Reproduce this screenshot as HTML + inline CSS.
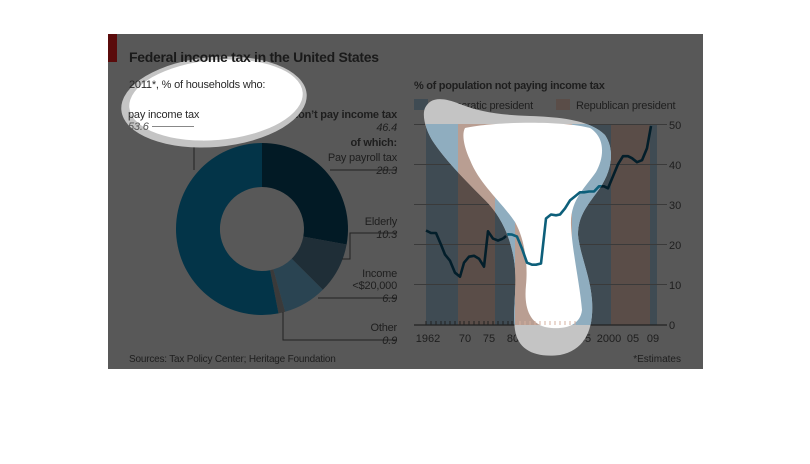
<!DOCTYPE html>
<html><head><meta charset="utf-8"><style>
html,body{margin:0;padding:0;background:#fff;}
svg{display:block;font-family:"Liberation Sans","DejaVu Sans",sans-serif;}
</style></head><body>
<svg width="810" height="464" viewBox="0 0 810 464" xmlns="http://www.w3.org/2000/svg">
<defs>
<clipPath id="b2"><path d="M425,108 C430,98 440,96 460,104 C480,112 500,115 530,116 C560,117 590,120 605,135 C615,150 612,170 600,188 C588,205 578,215 578,235 C580,255 590,275 592,300 C594,330 585,350 560,355 C535,358 518,350 515,330 C512,310 518,285 514,260 C510,235 500,215 485,200 C465,180 445,160 432,140 C425,128 422,115 425,108 Z"/></clipPath>
</defs>
<rect x="108" y="34" width="595" height="335" fill="#585858"/>
<rect x="108" y="34" width="9" height="28" fill="#5a0b0b"/>

<!-- donut -->
<g transform="translate(262,229)">
<path d="M0,-86 A86,86 0 0 1 84.6,15.5 L41.3,7.6 A42,42 0 0 0 0,-42 Z" fill="#021a25"/>
<path d="M84.6,15.5 A86,86 0 0 1 60.8,60.8 L29.7,29.7 A42,42 0 0 0 41.3,7.6 Z" fill="#1f2e37"/>
<path d="M60.8,60.8 A86,86 0 0 1 23.1,82.8 L11.3,40.4 A42,42 0 0 0 29.7,29.7 Z" fill="#2a4452"/>
<path d="M23.1,82.8 A86,86 0 0 1 16.5,84.4 L8.1,41.2 A42,42 0 0 0 11.3,40.4 Z" fill="#3a3a3a"/>
<path d="M16.5,84.4 A86,86 0 1 1 0,-86 L0,-42 A42,42 0 1 0 8.1,41.2 Z" fill="#033448"/>
</g>
<g stroke="#222" stroke-width="1" fill="none">
<polyline points="160,126 194,126 194,170"/>
<polyline points="330,170 397,170"/>
<polyline points="342,259 350,259 350,233 397,233"/>
<polyline points="318,298 397,298"/>
<polyline points="283,312 283,340 397,340"/>
</g>
<g font-size="11" fill="#1e1e1e" text-anchor="end" letter-spacing="-0.2">
<text x="397" y="118" font-weight="bold">don’t pay income tax</text>
<text x="397" y="131" font-style="italic">46.4</text>
<text x="397" y="146" font-weight="bold">of which:</text>
<text x="397" y="161">Pay payroll tax</text>
<text x="397" y="174" font-style="italic">28.3</text>
<text x="397" y="225">Elderly</text>
<text x="397" y="238" font-style="italic">10.3</text>
<text x="397" y="277">Income</text>
<text x="397" y="289">&lt;$20,000</text>
<text x="397" y="302" font-style="italic">6.9</text>
<text x="397" y="331">Other</text>
<text x="397" y="344" font-style="italic">0.9</text>
</g>
<text x="129" y="362" font-size="10" fill="#1e1e1e" letter-spacing="-0.2">Sources: Tax Policy Center; Heritage Foundation</text>
<text x="681" y="362" font-size="10" fill="#1e1e1e" text-anchor="end">*Estimates</text>

<!-- line chart -->
<text x="414" y="89" font-size="11" font-weight="bold" fill="#1e1e1e" letter-spacing="-0.3">% of population not paying income tax</text>
<rect x="414" y="99" width="14" height="11" fill="#3f4b53"/>
<text x="433" y="109" font-size="11" fill="#1e1e1e" letter-spacing="-0.2">Democratic president</text>
<rect x="556" y="99" width="14" height="11" fill="#5a4d48"/>
<text x="576" y="109" font-size="11" fill="#1e1e1e" letter-spacing="-0.2">Republican president</text>

<rect x="426" y="124" width="32" height="201" fill="#3f4b53"/>
<rect x="458" y="124" width="37" height="201" fill="#5a4d48"/>
<rect x="495" y="124" width="20" height="201" fill="#3f4b53"/>
<rect x="515" y="124" width="57" height="201" fill="#5a4d48"/>
<rect x="572" y="124" width="39" height="201" fill="#3f4b53"/>
<rect x="611" y="124" width="39" height="201" fill="#5a4d48"/>
<rect x="650" y="124" width="7" height="201" fill="#3f4b53"/>
<g stroke="#3a3a3a" stroke-width="1">
<line x1="414" y1="124.5" x2="667" y2="124.5"/><line x1="414" y1="164.5" x2="667" y2="164.5"/>
<line x1="414" y1="204.5" x2="667" y2="204.5"/><line x1="414" y1="244.5" x2="667" y2="244.5"/>
<line x1="414" y1="284.5" x2="667" y2="284.5"/>
</g>
<line x1="414" y1="325" x2="667" y2="325" stroke="#222" stroke-width="1.2"/>
<g font-size="11" fill="#1e1e1e">
<text x="669" y="129">50</text><text x="669" y="169">40</text><text x="669" y="209">30</text>
<text x="669" y="249">20</text><text x="669" y="289">10</text><text x="669" y="329">0</text>
</g>
<g font-size="11" fill="#1e1e1e" text-anchor="middle">
<text x="428" y="342">1962</text><text x="465" y="342">70</text><text x="489" y="342">75</text>
<text x="513" y="342">80</text><text x="537" y="342">85</text><text x="561" y="342">90</text>
<text x="585" y="342">95</text><text x="609" y="342">2000</text><text x="633" y="342">05</text><text x="653" y="342">09</text>
</g>
<path d="M426,325v-4M431,325v-4M436,325v-4M441,325v-4M445,325v-4M450,325v-4M455,325v-4M460,325v-4M464,325v-4M469,325v-4M474,325v-4M479,325v-4M484,325v-4M488,325v-4M493,325v-4M498,325v-4M503,325v-4M508,325v-4M512,325v-4M517,325v-4M522,325v-4M527,325v-4M532,325v-4M536,325v-4M541,325v-4M546,325v-4M551,325v-4M556,325v-4M560,325v-4M565,325v-4M570,325v-4M575,325v-4M580,325v-4M584,325v-4M589,325v-4" stroke="#222" stroke-width="1"/>

<g fill="none" stroke-width="2.6" stroke-linejoin="round">
<polyline stroke="#031e2a" points="426,230.5 431,233 436,233 441,244.6 445,254.6 450,260.7 455,272.7 460,276.7 464,262.7 469,256.7 474,255.8 479,258.7 484,266.7 488,231.3 493,238.6 498,240.6 503,238.6"/>
<polyline stroke="#031e2a" stroke-dasharray="4,3" points="503,238.6 508,234.3 512,234.6"/>
<polyline stroke="#031e2a" points="512,234.6 517,236.6 522,248.6 527,262.7 532,264.7 536,264.7 541,263.5 546,218.5 551,214.5 556,215.3 560,214.5 565,208.4 570,200.4 575,196.4 580,192.3 584,192.3 589,191.5 594,191.5 599,186.3 604,186.3 608,188.3 613,176.3 618,164.2 623,156.2 628,156.2 632,158.2 637,162.2 642,160.2 647,148.2 651,126"/>
</g>
<text x="506" y="233" font-size="10" fill="#1e1e1e">*</text>

<g clip-path="url(#b2)">
<rect x="400" y="90" width="280" height="280" fill="#c4c4c4"/>
<rect x="426" y="124" width="32" height="201" fill="#8fadbf"/>
<rect x="458" y="124" width="37" height="201" fill="#b99e92"/>
<rect x="495" y="124" width="20" height="201" fill="#8fadbf"/>
<rect x="515" y="124" width="57" height="201" fill="#b99e92"/>
<rect x="572" y="124" width="39" height="201" fill="#8fadbf"/>
<path d="M465,128 C490,122 560,120 590,128 C606,138 604,158 596,172 C585,188 570,200 571,225 C572,250 580,285 582,310 C580,328 560,330 545,327 C528,322 524,305 526,285 C528,265 525,240 515,222 C500,200 480,185 470,160 C463,145 462,133 465,128 Z" fill="#fff"/>
<path d="M520,325v-4M525,325v-4M530,325v-4M535,325v-4M540,325v-4M545,325v-4M550,325v-4M555,325v-4M560,325v-4M565,325v-4M570,325v-4M575,325v-4" stroke="#d4b0a0" stroke-width="1"/>
<polyline fill="none" stroke="#0d5f7a" stroke-width="2.6" stroke-linejoin="round" points="488,231.3 493,238.6 498,240.6 503,238.6 508,234.3 512,234.6 517,236.6 522,248.6 527,262.7 532,264.7 536,264.7 541,263.5 546,218.5 551,214.5 556,215.3 560,214.5 565,208.4 570,200.4 575,196.4 580,192.3 584,192.3 589,191.5 594,191.5 599,186.3 604,186.3 608,188.3"/>
</g>

<!-- blob 1 -->
<ellipse cx="214" cy="102" rx="93" ry="45" transform="rotate(-5 214 102)" fill="#c4c4c4"/>
<ellipse cx="216" cy="100" rx="87" ry="40" transform="rotate(-5 216 100)" fill="#fff"/>
<text x="129" y="62" font-size="14" font-weight="bold" fill="#1a1a1a" letter-spacing="-0.3">Federal income tax in the United States</text>
<g font-size="11" fill="#2a2a2a" letter-spacing="-0.2">
<text x="129" y="88">2011*, % of households who:</text>
<text x="128" y="118">pay income tax</text>
<text x="128" y="130" font-style="italic" fill="#555">53.6</text>
</g>
<line x1="152" y1="126.5" x2="194" y2="126.5" stroke="#888" stroke-width="1"/>
</svg>
</body></html>
